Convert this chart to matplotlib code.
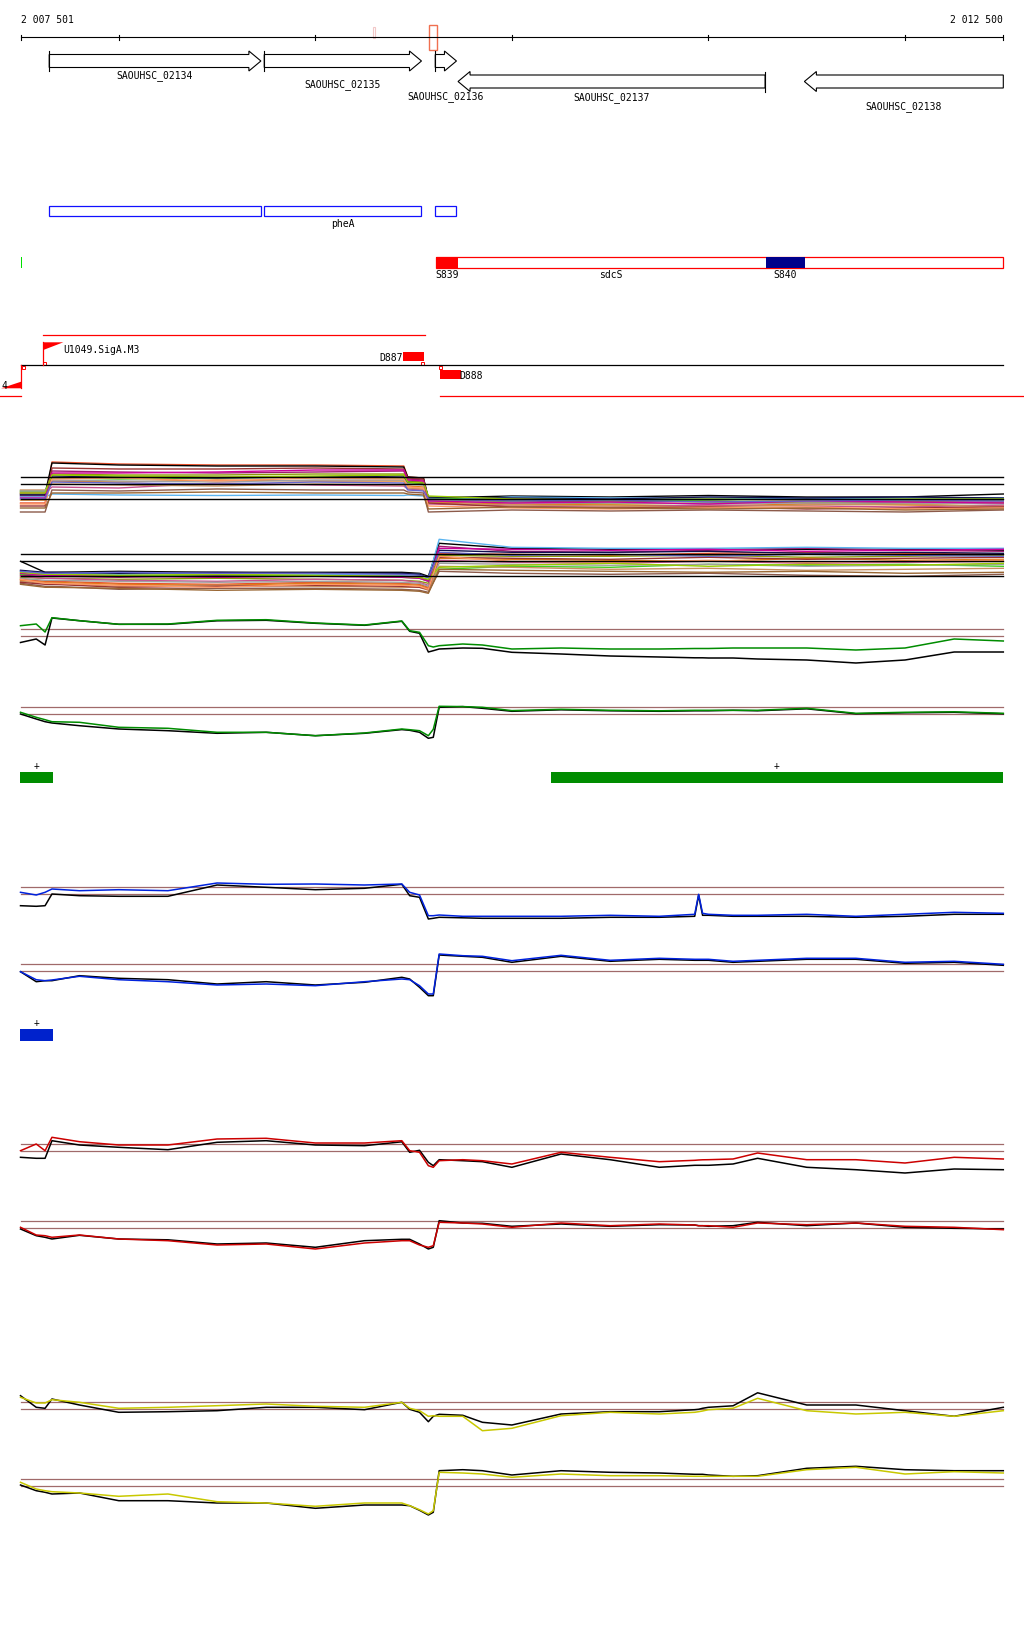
import matplotlib
matplotlib.use('Agg')
import matplotlib.pyplot as plt
from matplotlib.patches import Rectangle, Polygon

plt.rcParams['font.family'] = ['DejaVu Sans Mono']
plt.rcParams['font.size'] = 7

W, H = 1024, 1640

# ---- genome window ----
VIEW_START, VIEW_END = 2007501, 2012500
RULER_TICKS = [2007501, 2008000, 2009000, 2010000, 2011000, 2012000, 2012500]
RULER_LABELS = ['2 007 501', '2 012 500']

# ---- genes ----
GENE_NAMES = ['SAOUHSC_02134', 'SAOUHSC_02135', 'SAOUHSC_02136', 'SAOUHSC_02137', 'SAOUHSC_02138']
GENE_START = [2007646, 2008740, 2009610, 2009726, 2011488]
GENE_END = [2008723, 2009540, 2009718, 2011288, 2012600]
GENE_STRAND = ['+', '+', '+', '-', '-']

# selection markers on the ruler
MARK_START = [2009578, 2009294]
MARK_END = [2009617, 2009306]

# pheA operon boxes
PHEA_START = [2007646, 2008740, 2009610]
PHEA_END = [2008723, 2009540, 2009718]
PHEA_LABEL = 'pheA'

# small green feature
GREEN_FEAT = (2007501, 2007508)

# sdcS region with two sites
SDCS = (2009614, 2012500)
SITE_NAMES = ['S839', 'S840']
SITE_START = [2009614, 2011291]
SITE_END = [2009726, 2011493]
SITE_COLORS = ['#ff0000', '#00008b']
SDCS_LABEL_POS = 2010503

# promoters / terminators
PROMOTER_POS = [2007616, 2007503]
PROMOTER_NAMES = ['U1049.SigA.M3', '4']
PROMOTER_STRAND = ['+', '-']
TERM_NAMES = ['D887', 'D888']
TERM_START = [2009447, 2009634]
TERM_END = [2009553, 2009741]
TERM_STRAND = ['+', '-']
OPERON_PLUS = (2007616, 2009556)
OPERON_MINUS = [(2007000, 2007505), (2009634, 2013000)]
SITE_SQUARES = [2007506, 2007616, 2009536, 2009631]
SQUARE_STRAND = ['-', '+', '+', '-']

# segment bars
GREEN_SEGS = [(2007498, 2007666), (2010197, 2012500)]
BLUE_SEGS = [(2007498, 2007666)]

# ---- expression profiles (signal units) ----
X = [2007500, 2007580, 2007625, 2007660, 2007800, 2008000, 2008250, 2008500, 2008750,
     2009000, 2009250, 2009440, 2009480, 2009530, 2009575, 2009600, 2009630, 2009750,
     2009850, 2010000, 2010250, 2010500, 2010750, 2010930, 2010950, 2010970, 2011000,
     2011125, 2011250, 2011500, 2011750, 2012000, 2012250, 2012500]

green_plus = [1.06, 1.23, 0.43, 1.86, 1.56, 1.2, 1.23, 1.6, 1.66, 1.33, 1.13, 1.53, 0.56, 0.4,
              -0.94, -1.07, -0.94, -0.77, -0.87, -1.27, -1.17, -1.27, -1.27, -1.22, -1.22, -1.22,
              -1.22, -1.17, -1.17, -1.17, -1.37, -1.17, -0.27, -0.47]
green_plus_ref = [-0.62, -0.27, -0.87, 1.83, 1.56, 1.2, 1.2, 1.55, 1.6, 1.3, 1.1, 1.5, 0.5, 0.3,
                  -1.57, -1.44, -1.27, -1.17, -1.2, -1.6, -1.77, -1.97, -2.07, -2.15, -2.15, -2.15,
                  -2.17, -2.17, -2.27, -2.37, -2.67, -2.37, -1.57, -1.57]
green_minus = [0.2, -0.3, -0.54, -0.74, -0.8, -1.3, -1.4, -1.8, -1.8, -2.14, -1.87, -1.47, -1.54,
               -1.64, -2.14, -1.5, 0.8, 0.77, 0.7, 0.37, 0.5, 0.4, 0.35, 0.4, 0.4, 0.4, 0.4, 0.4,
               0.4, 0.6, 0.1, 0.2, 0.25, 0.1]
green_minus_ref = [0.03, -0.47, -0.74, -0.87, -1.14, -1.47, -1.64, -1.9, -1.8, -2.14, -1.9, -1.53,
                   -1.6, -1.8, -2.4, -2.3, 0.7, 0.77, 0.6, 0.3, 0.45, 0.35, 0.3, 0.35, 0.35, 0.35,
                   0.35, 0.4, 0.35, 0.55, 0.05, 0.15, 0.2, 0.05]

blue_plus = [0.2, -0.07, 0.2, 0.53, 0.36, 0.46, 0.36, 1.13, 1.0, 1.03, 0.93, 1.03, 0.2, -0.07,
             -2.14, -2.14, -2.07, -2.2, -2.2, -2.2, -2.2, -2.1, -2.2, -2.0, 0.0, -1.9, -2.0, -2.1,
             -2.1, -2.0, -2.2, -2.0, -1.8, -1.9]
blue_plus_ref = [-1.14, -1.2, -1.14, 0.03, -0.14, -0.2, -0.2, 0.93, 0.7, 0.46, 0.6, 1.0, -0.14, -0.3,
                 -2.47, -2.4, -2.3, -2.35, -2.4, -2.4, -2.4, -2.3, -2.3, -2.2, -0.1, -2.1, -2.1,
                 -2.2, -2.2, -2.2, -2.3, -2.2, -2.0, -2.0]
blue_minus = [-0.04, -0.84, -0.94, -0.87, -0.5, -0.84, -1.04, -1.37, -1.27, -1.44, -1.04, -0.77,
              -0.84, -1.44, -2.27, -2.27, 1.73, 1.56, 1.5, 1.06, 1.6, 1.1, 1.3, 1.2, 1.2, 1.2, 1.2,
              1.0, 1.1, 1.3, 1.3, 0.9, 1.0, 0.7]
blue_minus_ref = [-0.04, -1.04, -0.94, -0.94, -0.44, -0.7, -0.84, -1.27, -1.04, -1.37, -1.1, -0.6,
                  -0.77, -1.6, -2.44, -2.44, 1.63, 1.5, 1.4, 0.9, 1.5, 1.0, 1.2, 1.1, 1.1, 1.1, 1.1,
                  0.9, 1.0, 1.2, 1.2, 0.8, 0.9, 0.6]

red_plus = [0.06, 0.73, 0.06, 1.4, 0.96, 0.63, 0.63, 1.23, 1.3, 0.83, 0.83, 1.06, 0.06, -0.1,
            -1.44, -1.6, -0.94, -0.84, -0.94, -1.27, -0.1, -0.6, -1.04, -0.9, -0.87, -0.85, -0.84,
            -0.77, -0.17, -0.84, -0.84, -1.17, -0.6, -0.77]
red_plus_ref = [-0.6, -0.7, -0.7, 1.06, 0.63, 0.4, 0.16, 0.9, 1.06, 0.63, 0.56, 0.95, -0.1, 0.1,
                -1.1, -1.44, -0.84, -0.94, -1.04, -1.6, -0.27, -0.84, -1.6, -1.4, -1.4, -1.4, -1.4,
                -1.27, -0.7, -1.6, -1.84, -2.17, -1.77, -1.84]
red_minus = [0.1, -0.67, -0.74, -0.9, -0.67, -1.07, -1.24, -1.67, -1.57, -2.07, -1.47, -1.24, -1.24,
             -1.67, -1.9, -1.74, 0.6, 0.53, 0.43, 0.1, 0.53, 0.26, 0.43, 0.33, 0.26, 0.26, 0.26,
             0.1, 0.53, 0.36, 0.53, 0.2, 0.1, -0.14]
red_minus_ref = [-0.07, -0.74, -0.9, -1.07, -0.7, -1.07, -1.15, -1.57, -1.47, -1.9, -1.24, -1.1,
                 -1.1, -1.57, -2.07, -1.9, 0.76, 0.53, 0.5, 0.2, 0.43, 0.2, 0.36, 0.33, 0.26, 0.26,
                 0.2, 0.26, 0.6, 0.26, 0.53, 0.1, 0.0, -0.07]

yellow_plus = [1.2, 0.63, 0.63, 0.96, 0.7, 0.1, 0.2, 0.36, 0.53, 0.3, 0.2, 0.7, 0.1, -0.14, -0.7,
               -0.64, -0.7, -0.7, -2.14, -1.9, -0.64, -0.3, -0.47, -0.3, -0.24, -0.17, -0.04, 0.1,
               1.1, -0.14, -0.47, -0.3, -0.7, -0.14]
yellow_plus_ref = [1.36, 0.2, 0.1, 1.03, 0.43, -0.3, -0.24, -0.14, 0.2, 0.2, -0.04, 0.7, 0.0, -0.3,
                   -1.24, -0.7, -0.5, -0.6, -1.3, -1.57, -0.47, -0.24, -0.24, -0.04, 0.0, 0.1, 0.2,
                   0.35, 1.65, 0.43, 0.43, -0.14, -0.7, 0.2]
yellow_minus = [0.4, -0.27, -0.44, -0.54, -0.67, -1.0, -0.77, -1.54, -1.67, -2.0, -1.67, -1.67,
                -1.94, -2.34, -2.77, -2.44, 1.4, 1.33, 1.23, 0.9, 1.23, 1.06, 1.06, 1.0, 1.0, 1.0,
                1.0, 1.0, 1.0, 1.66, 1.9, 1.23, 1.46, 1.33]
yellow_minus_ref = [0.13, -0.44, -0.6, -0.77, -0.67, -1.44, -1.44, -1.67, -1.67, -2.2, -1.87, -1.87,
                    -1.94, -2.4, -2.87, -2.6, 1.56, 1.66, 1.56, 1.13, 1.56, 1.4, 1.33, 1.2, 1.2, 1.2,
                    1.13, 1.0, 1.06, 1.8, 2.0, 1.66, 1.56, 1.56]

# many-condition profiles (coarser probe grids, one per strand)
XM_PLUS = [2007500, 2007625, 2007660, 2008000, 2008500, 2009000, 2009450, 2009470, 2009550,
           2009575, 2010000, 2010500, 2011000, 2011500, 2012000, 2012500]
XM_MINUS = [2007500, 2007625, 2007660, 2008000, 2008500, 2009000, 2009440, 2009530, 2009575,
            2009630, 2010000, 2010500, 2011000, 2011500, 2012000, 2012500]
COND_COLORS = ['#e8502a', '#000000', '#a0186e', '#8c9a0a', '#3fcc20', '#e07b1a',
               '#c85090', '#5ab4f0', '#c89060', '#8c5a4a', '#101050', '#a0a0a0',
               '#993333', '#cc0099', '#99cc00', '#ff9966', '#6666cc', '#996633']
cond_plus = [
    [-1.9, -1.9, 2.2, 2.0, 1.9, 1.9, 1.8, 0.7, 0.6, -1.6, -1.5, -1.6, -1.5, -1.6, -1.7, -1.6],
    [-1.0, -1.0, 2.1, 1.9, 1.8, 1.8, 1.7, 0.7, 0.6, -1.4, -1.2, -1.3, -1.15, -1.3, -1.3, -1.0],
    [-1.2, -1.2, 1.3, 1.2, 1.1, 1.2, 1.3, 0.5, 0.4, -1.5, -1.7, -1.8, -1.7, -1.9, -1.8, -1.8],
    [-0.8, -0.8, 1.0, 0.9, 0.9, 1.0, 1.0, 0.3, 0.2, -1.6, -1.8, -2.0, -1.9, -1.8, -2.0, -1.9],
    [-0.7, -0.7, 0.6, 0.5, 0.6, 0.7, 0.6, 0.1, 0.0, -1.4, -1.6, -1.7, -1.6, -1.5, -1.7, -1.6],
    [-1.6, -1.6, 0.3, 0.2, 0.4, 0.3, 0.3, -0.2, -0.3, -1.8, -2.0, -2.1, -2.2, -2.0, -2.1, -2.2],
    [-0.9, -0.9, -0.3, -0.4, 0.1, -0.1, -0.2, -0.5, -0.6, -2.0, -2.2, -2.3, -2.1, -2.2, -2.3, -2.1],
    [-1.3, -1.3, -1.0, -1.1, -1.15, -1.1, -1.15, -1.1, -1.2, -1.7, -1.3, -1.4, -1.4, -1.5, -1.4, -1.4],
    [-0.6, -0.6, 0.0, -0.1, -0.2, 0.0, -0.1, -0.4, -0.5, -1.9, -2.1, -2.2, -2.3, -2.1, -2.0, -2.3],
    [-2.8, -2.8, -0.6, -0.7, -0.5, -0.6, -0.6, -0.8, -0.9, -2.8, -2.6, -2.7, -2.6, -2.7, -2.8, -2.6],
    [-1.1, -1.1, 0.8, 0.7, 0.6, 0.7, 0.8, 0.2, 0.1, -1.3, -1.4, -1.5, -1.3, -1.4, -1.3, -1.4],
    [-0.7, -0.7, 0.4, 0.3, 0.2, 0.4, 0.4, 0.0, -0.1, -1.6, -1.9, -1.9, -2.0, -1.9, -1.9, -2.0],
    [-2.2, -2.2, 1.6, 1.5, 1.5, 1.6, 1.5, 0.6, 0.5, -1.9, -2.3, -2.4, -2.3, -2.5, -2.4, -2.3],
    [-1.4, -1.4, 1.1, 1.1, 1.2, 1.4, 1.4, 0.4, 0.3, -1.7, -1.9, -1.8, -2.0, -1.7, -1.8, -1.9],
    [-0.9, -0.9, 0.9, 0.8, 0.7, 0.8, 0.9, 0.2, 0.1, -1.2, -1.5, -1.6, -1.5, -1.6, -1.5, -1.5],
    [-2.0, -2.0, 0.5, 0.6, 0.3, 0.6, 0.5, -0.3, -0.4, -2.2, -2.4, -2.5, -2.4, -2.3, -2.5, -2.4],
    [-1.5, -1.5, 0.2, 0.1, 0.0, 0.2, 0.1, -0.6, -0.7, -1.5, -1.7, -1.6, -1.8, -1.7, -1.6, -1.7],
    [-2.4, -2.4, -0.9, -0.9, -0.8, -0.9, -0.9, -1.0, -1.1, -2.5, -2.3, -2.4, -2.5, -2.4, -2.6, -2.5],
]
cond_minus = [
    [-1.8, -2.0, -2.0, -2.2, -2.3, -2.1, -2.2, -2.3, -2.6, 0.8, 0.7, 0.6, 0.8, 0.9, 0.8, 0.7],
    [0.0, -1.1, -1.1, -1.0, -1.1, -1.1, -1.1, -1.2, -1.5, 1.8, 1.3, 1.2, 1.2, 1.2, 1.2, 1.1],
    [-1.4, -1.5, -1.5, -1.6, -1.4, -1.5, -1.5, -1.6, -1.9, 1.5, 1.0, 0.9, 1.1, 1.3, 1.1, 1.0],
    [-1.6, -1.7, -1.7, -1.8, -1.7, -1.8, -1.9, -2.0, -2.2, 0.6, 0.5, 0.5, 0.6, 0.4, 0.5, 0.6],
    [-1.3, -1.3, -1.3, -1.4, -1.5, -1.4, -1.6, -1.7, -2.0, -0.8, -0.5, -0.6, -0.3, -0.4, -0.3, -0.5],
    [-1.9, -2.1, -2.1, -2.3, -2.4, -2.2, -2.3, -2.4, -2.7, 0.3, 0.2, 0.1, 0.0, 0.3, 0.1, 0.2],
    [-1.5, -1.7, -1.7, -1.9, -2.0, -1.8, -1.9, -2.1, -2.4, 0.1, -0.1, -0.2, 0.0, -0.2, -0.1, 0.0],
    [-1.0, -1.2, -1.2, -1.3, -1.2, -1.3, -1.4, -1.3, -1.7, 2.2, 1.4, 1.3, 1.3, 1.4, 1.3, 1.3],
    [-2.0, -2.2, -2.2, -2.5, -2.4, -2.5, -2.6, -2.6, -2.9, -0.5, -0.6, -0.8, -0.7, -0.9, -0.8, -0.7],
    [-2.2, -2.5, -2.5, -2.8, -2.7, -2.7, -2.8, -2.9, -3.1, -1.0, -1.2, -1.3, -1.2, -1.4, -1.5, -1.3],
    [-0.9, -1.1, -1.1, -1.2, -1.1, -1.2, -1.2, -1.3, -1.6, 1.1, 0.9, 0.9, 1.0, 0.8, 0.9, 0.8],
    [-1.7, -1.9, -1.9, -2.0, -2.1, -2.0, -2.1, -2.2, -2.5, -0.2, -0.3, -0.4, -0.3, -0.5, -0.4, -0.3],
    [-2.1, -2.3, -2.3, -2.6, -2.5, -2.4, -2.5, -2.6, -2.8, 0.4, 0.3, 0.2, 0.4, 0.2, 0.3, 0.4],
    [-1.2, -1.4, -1.4, -1.5, -1.6, -1.5, -1.6, -1.7, -2.0, 1.3, 1.2, 1.1, 1.2, 1.0, 1.1, 1.2],
    [-1.1, -1.3, -1.3, -1.4, -1.3, -1.4, -1.5, -1.6, -1.8, -0.6, -0.4, -0.2, -0.5, -0.3, -0.4, -0.2],
    [-1.8, -2.2, -2.2, -2.4, -2.6, -2.3, -2.4, -2.5, -2.8, 0.5, 0.0, -0.1, 0.1, -0.1, 0.0, 0.1],
    [-1.0, -1.2, -1.2, -1.1, -1.2, -1.2, -1.3, -1.4, -1.6, 0.9, 0.6, 0.7, 0.5, 0.7, 0.6, 0.5],
    [-2.3, -2.6, -2.6, -2.7, -2.9, -2.8, -2.9, -3.0, -3.2, -0.8, -0.9, -1.0, -1.1, -1.0, -1.2, -1.1],
]
COND_REF_LEVELS = [0.7, 0.0, -1.5]
THRESHOLDS = [0.7, 0.0]

# ---- layout (pixels) ----
VIEW_PX = (20.7, 1003.3)
BP_PER_PX = (VIEW_END - VIEW_START) / (VIEW_PX[1] - VIEW_PX[0])
XMIN = VIEW_START - VIEW_PX[0] * BP_PER_PX
XMAX = VIEW_START + (W - VIEW_PX[0]) * BP_PER_PX
PX_PER_UNIT = 10.0
REF_COLOR = '#a06a6a'

fig = plt.figure(figsize=(W / 100, H / 100), dpi=100)
ax = fig.add_axes([0, 0, 1, 1])
ax.set_xlim(XMIN, XMAX)
ax.set_ylim(H, 0)
ax.axis('off')

# ruler
ax.plot([VIEW_START, VIEW_END], [38.3, 38.3], color='black', lw=0.8)
for t in RULER_TICKS:
    ax.plot([t, t], [36.3, 40.5], color='black', lw=0.8)
ax.text(VIEW_START, 20, RULER_LABELS[0], ha='left', va='center')
ax.text(VIEW_END, 20, RULER_LABELS[1], ha='right', va='center')
ax.add_patch(Rectangle((MARK_START[0], 26), MARK_END[0] - MARK_START[0], 25,
                       fill=False, ec='#f07050', lw=1.0))
ax.add_patch(Rectangle((MARK_START[1], 28), MARK_END[1] - MARK_START[1], 11,
                       fill=False, ec='#f2c8c8', lw=0.8))

# genes as arrows
head = 12 * BP_PER_PX
label_y = [76, 85, 97, 97.5, 106.5]
for name, s, e, strand, ly in zip(GENE_NAMES, GENE_START, GENE_END, GENE_STRAND, label_y):
    e_vis = min(e, VIEW_END)
    if strand == '+':
        c = 62
        pts = [(s, c - 6.5), (e - head, c - 6.5), (e - head, c - 10), (e, c),
               (e - head, c + 10), (e - head, c + 6.5), (s, c + 6.5)]
        ax.plot([s, s], [c - 10, c + 10], color='black', lw=0.8)
    else:
        c = 82.5
        pts = [(e_vis, c - 6.5), (s + head, c - 6.5), (s + head, c - 10), (s, c),
               (s + head, c + 10), (s + head, c + 6.5), (e_vis, c + 6.5)]
        if e <= VIEW_END:
            ax.plot([e, e], [c - 10, c + 10], color='black', lw=0.8)
    ax.add_patch(Polygon(pts, closed=True, fill=False, ec='black', lw=0.8))
    ax.text((s + e_vis) / 2, ly, name, ha='center', va='center')

# pheA boxes
for s, e in zip(PHEA_START, PHEA_END):
    ax.add_patch(Rectangle((s, 207.3), e - s, 10, fill=False, ec='#1010ff', lw=0.9))
ax.text((PHEA_START[1] + PHEA_END[1]) / 2, 224, PHEA_LABEL, ha='center', va='center')

# green feature
ax.add_patch(Rectangle((GREEN_FEAT[0], 258), GREEN_FEAT[1] - GREEN_FEAT[0], 11,
                       color='#00e000', lw=0))

# sdcS with sites
ax.add_patch(Rectangle((SDCS[0], 258.3), SDCS[1] - SDCS[0], 10.4, fill=False, ec='#ff0000', lw=0.9))
for name, s, e, col in zip(SITE_NAMES, SITE_START, SITE_END, SITE_COLORS):
    ax.add_patch(Rectangle((s, 258.3), e - s, 10.4, color=col, lw=0))
    ax.text((s + e) / 2, 275.3, name, ha='center', va='center')
ax.text(SDCS_LABEL_POS, 275.3, 'sdcS', ha='center', va='center')

# transcription units
ax.plot(OPERON_PLUS, [336, 336], color='#ff0000', lw=0.9)
for s, e in OPERON_MINUS:
    ax.plot([s, e], [397.3, 397.3], color='#ff0000', lw=0.9)
ax.plot([VIEW_START, VIEW_END], [366, 366], color='black', lw=0.9)
flag = 20 * BP_PER_PX
for pos, name, strand in zip(PROMOTER_POS, PROMOTER_NAMES, PROMOTER_STRAND):
    if strand == '+':
        ax.plot([pos, pos], [343.3, 366], color='#ff0000', lw=0.9)
        ax.add_patch(Polygon([(pos, 343.3), (pos + flag, 343.3), (pos, 351)], color='#ff0000', lw=0))
        ax.text(pos + flag, 350, name, ha='left', va='center')
    else:
        ax.plot([pos, pos], [366, 389.3], color='#ff0000', lw=0.9)
        ax.add_patch(Polygon([(pos, 389.3), (pos - flag, 389.3), (pos, 382.7)], color='#ff0000', lw=0))
        ax.text(pos - 0.7 * flag, 386, name, ha='right', va='center')
for name, s, e, strand in zip(TERM_NAMES, TERM_START, TERM_END, TERM_STRAND):
    if strand == '+':
        ax.add_patch(Rectangle((s, 353.3), e - s, 8.4, color='#ff0000', lw=0))
        ax.text(s - 0.5 * BP_PER_PX, 357.7, name, ha='right', va='center')
    else:
        ax.add_patch(Rectangle((s, 371), e - s, 9, color='#ff0000', lw=0))
        ax.text(e - 2 * BP_PER_PX, 376, name, ha='left', va='center')
for pos, strand in zip(SITE_SQUARES, SQUARE_STRAND):
    y0 = 362.5 if strand == '+' else 366.5
    ax.add_patch(Rectangle((pos, y0), 3 * BP_PER_PX, 3.5, fill=False, ec='#ff0000', lw=0.7))

# segment bars
for s, e in GREEN_SEGS:
    ax.add_patch(Rectangle((s, 773), e - s, 10.7, color='#008c00', lw=0))
    ax.text((s + e) / 2, 766, '+', ha='center', va='center')
for s, e in BLUE_SEGS:
    ax.add_patch(Rectangle((s, 1030), e - s, 11.7, color='#0022cc', lw=0))
    ax.text((s + e) / 2, 1023, '+', ha='center', va='center')


def profile_axes(zero_px, up=45, down=45):
    a = fig.add_axes([0, 1 - (zero_px + down) / H, 1, (up + down) / H])
    a.set_xlim(XMIN, XMAX)
    a.set_ylim(-down / PX_PER_UNIT, up / PX_PER_UNIT)
    a.axis('off')
    return a


# many-condition tracks
for zero, xs, series in [(485.0, XM_PLUS, cond_plus), (562.3, XM_MINUS, cond_minus)]:
    a = profile_axes(zero)
    for vals, col in zip(series, COND_COLORS):
        a.plot(xs, vals, color=col, lw=1.0)
    for lev in COND_REF_LEVELS:
        a.plot([VIEW_START, VIEW_END], [lev, lev], color='black', lw=1.0, zorder=5)

# two-sample tracks
pairs = [
    (637.3, green_plus, green_plus_ref, '#008c00'),
    (715.3, green_minus, green_minus_ref, '#008c00'),
    (895.3, blue_plus, blue_plus_ref, '#0022dd'),
    (972.3, blue_minus, blue_minus_ref, '#0022dd'),
    (1152.3, red_plus, red_plus_ref, '#cc0000'),
    (1229.3, red_minus, red_minus_ref, '#cc0000'),
    (1410.3, yellow_plus, yellow_plus_ref, '#c8c800'),
    (1487.3, yellow_minus, yellow_minus_ref, '#c8c800'),
]
for zero, vals, ref, col in pairs:
    a = profile_axes(zero)
    for lev in THRESHOLDS:
        a.plot([VIEW_START, VIEW_END], [lev, lev], color=REF_COLOR, lw=0.9)
    a.plot(X, ref, color='black', lw=1.1)
    a.plot(X, vals, color=col, lw=1.1)

fig.savefig('out.png', dpi=100)
